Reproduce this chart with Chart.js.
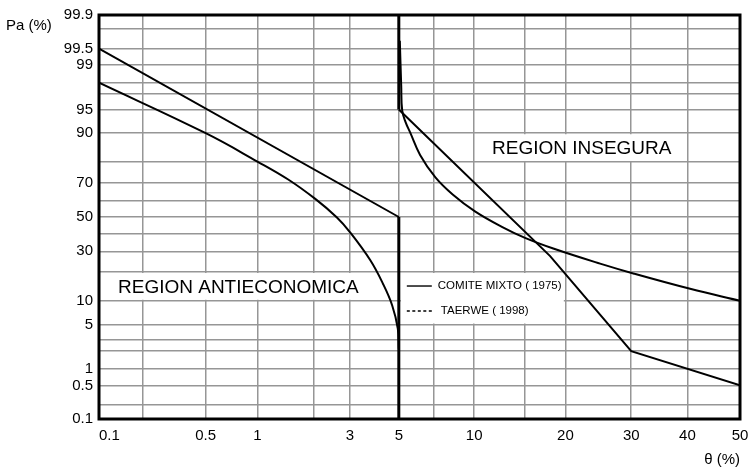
<!DOCTYPE html>
<html>
<head>
<meta charset="utf-8">
<script src="https://cdn.jsdelivr.net/npm/chart.js@4.4.0/dist/chart.umd.min.js"></script>
<style>
  html, body { margin: 0; padding: 0; background: #fff; }
  canvas { display: block; }
</style>
</head>
<body>
<canvas id="grafico" width="748" height="471"></canvas>
<script>
// Valores en % (ambos ejes son escala de probabilidad normal)
const comiteIzqX = [0.1, 5, 5];
const comiteIzqY = [99.5, 50, 0.1];
const comiteDerX = [5, 5, 18, 30, 50];
const comiteDerY = [99.9, 95, 27.5, 2, 0.5];

const taerweIzqX = [0.1, 0.5, 1, 1.47, 2.03, 2.6, 3.0, 3.73, 4.27, 4.68, 4.95, 5.0];
const taerweIzqY = [98, 90, 80.2, 71.7, 60.9, 49.7, 40.9, 25.5, 15.2, 8.8, 4.4, 2.2];
const taerweDerX = [5.05, 5.12, 5.17, 5.35, 5.6, 6.15, 7.1, 8.3, 10.1, 12.6, 15, 18.4, 25, 30.5, 40.5, 50];
const taerweDerY = [99.65, 97.8, 94.85, 92.6, 90.1, 82.9, 72.8, 63.5, 53.3, 43.9, 37.5, 31.5, 23.8, 19.3, 13.6, 10];

// Rejilla y etiquetas
const gridX = [0.1, 0.2, 0.5, 1, 2, 3, 5, 7, 10, 15, 20, 30, 40, 50];
const etiquetasX = [0.1, 0.5, 1, 3, 5, 10, 20, 30, 40, 50];
const gridY = [0.1, 0.2, 0.5, 1, 2, 3, 5, 10, 20, 30, 40, 50, 60, 70, 80, 90, 95, 97, 98, 99, 99.5, 99.8, 99.9];
const etiquetasY = [0.1, 0.5, 1, 5, 10, 30, 50, 70, 90, 95, 99, 99.5, 99.9];

// Inversa de la normal (Acklam)
function probit(p) {
  const a = [-3.969683028665376e+01, 2.209460984245205e+02, -2.759285104469687e+02, 1.383577518672690e+02, -3.066479806614716e+01, 2.506628277459239e+00];
  const b = [-5.447609879822406e+01, 1.615858368580409e+02, -1.556989798598866e+02, 6.680131188771972e+01, -1.328068155288572e+01];
  const c = [-7.784894002430293e-03, -3.223964580411365e-01, -2.400758277161838e+00, -2.549732539343734e+00, 4.374664141464968e+00, 2.938163982698783e+00];
  const d = [7.784695709041462e-03, 3.224671290700398e-01, 2.445134137142996e+00, 3.754408661907416e+00];
  const plow = 0.02425;
  if (p < plow) {
    const q = Math.sqrt(-2 * Math.log(p));
    return (((((c[0]*q+c[1])*q+c[2])*q+c[3])*q+c[4])*q+c[5]) / ((((d[0]*q+d[1])*q+d[2])*q+d[3])*q+1);
  }
  if (p <= 1 - plow) {
    const q = p - 0.5, r = q * q;
    return (((((a[0]*r+a[1])*r+a[2])*r+a[3])*r+a[4])*r+a[5])*q / (((((b[0]*r+b[1])*r+b[2])*r+b[3])*r+b[4])*r+1);
  }
  const q = Math.sqrt(-2 * Math.log(1 - p));
  return -(((((c[0]*q+c[1])*q+c[2])*q+c[3])*q+c[4])*q+c[5]) / ((((d[0]*q+d[1])*q+d[2])*q+d[3])*q+1);
}
const z = v => probit(v / 100);
const puntos = (xs, ys) => xs.map((x, i) => ({ x: z(x), y: z(ys[i]) }));

const FUENTE = '"Liberation Sans", Arial, sans-serif';
Chart.defaults.font.family = FUENTE;
Chart.defaults.color = '#000';

const linea = { borderColor: '#000', borderWidth: 2, pointRadius: 0, fill: false, showLine: true };
// el tramo vertical en 5 % va más grueso
const tramo = { borderWidth: c => c.p0.parsed.x === c.p1.parsed.x ? 3 : 2 };

// Cajas de texto, leyenda, marco y título del eje Y
const decoracion = {
  id: 'decoracion',
  beforeDatasetsDraw(chart) {
    const { ctx, chartArea: a, scales: { x, y } } = chart;
    ctx.save();
    ctx.font = '19px ' + FUENTE;
    ctx.textBaseline = 'middle';

    // REGION ANTIECONOMICA
    let y1 = y.getPixelForValue(z(20)), y2 = y.getPixelForValue(z(10));
    let t = 'REGION ANTIECONOMICA';
    let w = ctx.measureText(t).width;
    ctx.fillStyle = '#fff';
    ctx.fillRect(a.left + 2, y1 + 1, w + 40, y2 - y1 - 2);
    ctx.fillStyle = '#000';
    ctx.fillText(t, a.left + 19, (y1 + y2) / 2 + 1);

    // REGION INSEGURA
    y1 = y.getPixelForValue(z(90)); y2 = y.getPixelForValue(z(80));
    t = 'REGION INSEGURA';
    w = ctx.measureText(t).width;
    const xt = 492;
    ctx.fillStyle = '#fff';
    ctx.fillRect(xt - 10, y1 + 1, w + 24, y2 - y1 - 2);
    ctx.fillStyle = '#000';
    ctx.fillText(t, xt, (y1 + y2) / 2 + 1);

    // Leyenda
    y1 = y.getPixelForValue(z(20)); y2 = y.getPixelForValue(z(5));
    const x0 = x.getPixelForValue(z(5)) + 2;
    ctx.fillStyle = '#fff';
    ctx.fillRect(x0, y1 + 1, 163, y2 - y1 - 2);
    ctx.font = '11.5px ' + FUENTE;
    ctx.fillStyle = '#000';
    ctx.strokeStyle = '#000';
    ctx.lineWidth = 1.4;
    const fila1 = y1 + 14, fila2 = y1 + 39;
    ctx.beginPath(); ctx.moveTo(x0 + 6, fila1); ctx.lineTo(x0 + 31, fila1); ctx.stroke();
    ctx.setLineDash([3, 2.5]);
    ctx.beginPath(); ctx.moveTo(x0 + 6, fila2); ctx.lineTo(x0 + 33, fila2); ctx.stroke();
    ctx.setLineDash([]);
    ctx.fillText('COMITE MIXTO ( 1975)', x0 + 37, fila1);
    ctx.fillText('TAERWE ( 1998)', x0 + 40, fila2);
    ctx.restore();
  },
  afterDraw(chart) {
    const { ctx, chartArea: a } = chart;
    ctx.save();
    ctx.strokeStyle = '#000';
    ctx.lineWidth = 3;
    ctx.strokeRect(a.left, a.top, a.right - a.left, a.bottom - a.top);
    ctx.font = '15px ' + FUENTE;
    ctx.fillStyle = '#000';
    ctx.textBaseline = 'middle';
    ctx.fillText('Pa (%)', 6, 26);
    ctx.restore();
  }
};

new Chart(document.getElementById('grafico'), {
  type: 'scatter',
  data: {
    datasets: [
      { label: 'COMITE MIXTO (1975)', data: puntos(comiteIzqX, comiteIzqY), segment: tramo, ...linea },
      { label: 'COMITE MIXTO (1975) b', data: puntos(comiteDerX, comiteDerY), segment: tramo, ...linea },
      { label: 'TAERWE (1998)', data: puntos(taerweIzqX, taerweIzqY), tension: 0.4, ...linea },
      { label: 'TAERWE (1998) b', data: puntos(taerweDerX, taerweDerY), tension: 0.4, ...linea }
    ]
  },
  options: {
    responsive: false,
    animation: false,
    devicePixelRatio: 1,
    layout: { padding: { top: 15, right: 8, left: 0, bottom: 0 } },
    plugins: { legend: { display: false }, tooltip: { enabled: false } },
    scales: {
      x: {
        type: 'linear',
        min: z(0.1),
        max: z(50),
        afterBuildTicks: s => { s.ticks = gridX.map(p => ({ value: z(p) })); },
        afterFit: s => { s.height = 52; s.paddingLeft = 0; s.paddingRight = 0; },
        grid: { color: '#969696', lineWidth: 1.5, drawTicks: false },
        border: { display: false },
        ticks: {
          autoSkip: false,
          maxRotation: 0,
          padding: 8,
          font: { size: 15 },
          callback: (v, i) => etiquetasX.includes(gridX[i]) ? (gridX[i] === 0.1 ? '     0.1' : String(gridX[i])) : ''
        },
        title: { display: true, text: 'θ (%)', align: 'end', font: { size: 15 }, padding: { top: 0, bottom: 2 } }
      },
      y: {
        type: 'linear',
        min: z(0.1),
        max: z(99.9),
        afterBuildTicks: s => { s.ticks = gridY.map(p => ({ value: z(p) })); },
        afterFit: s => { s.width = 99; },
        grid: { color: '#969696', lineWidth: 1.5, drawTicks: false },
        border: { display: false },
        ticks: {
          autoSkip: false,
          padding: 6,
          font: { size: 15 },
          callback: (v, i) => etiquetasY.includes(gridY[i]) ? String(gridY[i]) : ''
        }
      }
    }
  },
  plugins: [decoracion]
});
</script>
</body>
</html>
